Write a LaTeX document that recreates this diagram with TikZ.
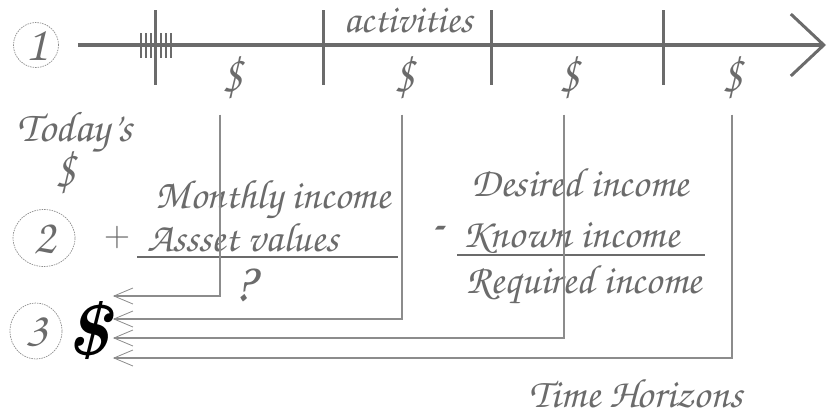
\documentclass[tikz,border=0pt]{standalone}
\usepackage[T1,TU]{fontenc}
\usetikzlibrary{arrows.meta,shapes.geometric}
\newcommand\hand{\fontencoding{T1}\fontfamily{pzc}\fontseries{mb}\fontshape{it}\selectfont}
\definecolor{ink}{gray}{0.42}
\definecolor{wire}{gray}{0.55}
\tikzset{
  hand/.style = {text = ink, inner sep = 0pt, font = {\hand\fontsize{#1}{#1}\selectfont}},
  hand/.default = 41,
  numring/.style = {ellipse, draw = wire, line width = 0.7pt, dash pattern = on 1.5pt off 1pt, text = ink, inner sep = 0pt, font = {\hand\fontsize{50}{50}\selectfont}},
  tick/.style = {draw = ink, line width = 3pt},
  link/.style = {draw = wire, line width = 1.3pt, -{Straight Barb[length = 19pt, width = 16pt, line width = 0.8pt]}},
  bar/.style = {draw = ink, line width = 2.5pt}
}
\begin{document}
\begin{tikzpicture}[x = 1pt, y = -1pt]
\useasboundingbox (0,0) rectangle (828,416);
\pgfmathsetmacro\lineY{45};
\node[numring, minimum width = 45, minimum height = 45] (one) at (36,\lineY) {1};
\node[numring, minimum width = 62, minimum height = 57] (two) at (44,238) {2};
\node[numring, minimum width = 52, minimum height = 56] (three) at (36,331) {3};
\coordinate (tip) at (826,\lineY);
\draw[draw = ink, line width = 4pt, -{Straight Barb[length = 33pt, width = 62pt, line width = 3pt]}] ([xshift = 19pt]one.east) -- (tip);
\foreach \x in {155,323,491,663} \draw[tick] (\x,10) -- (\x,85);
\foreach \x in {141,146,151,161,166,171} \draw[tick, line width = 1.5pt] (\x,33) -- (\x,58);
\node[hand = 40] (act) at (408,20) {activities};
\foreach \x/\n in {233/a,405/b,570/c,733/d} \node[hand = 52] (cash\n) at (\x,77) {\$};
\node[hand = 43] (today) at (75,133) {Today's};
\node[hand = 52] (todaycash) at (66,172) {\$};
\node[text = ink, inner sep = 0pt, font = \fontsize{36}{36}\selectfont] (plus) at (117,238) {+};
\node[hand] (monthly) at (273,200) {Monthly income};
\node[hand] (asset) at (243,237) {Assset values};
\draw[bar] (137,257) -- (398,257);
\node[hand = 56] (what) at (244,285) {?};
\node[hand] (desired) at (580,182) {Desired income};
\node[hand = 60] (minus) at (437,233) {-};
\node[hand] (known) at (571,238) {Known income};
\draw[bar] (457,255) -- (705,255);
\node[hand] (required) at (584,285) {Required income};
\node[font = {\bfseries\itshape\fontsize{72}{72}\selectfont}, inner sep = 0pt] (bigcash) at (88,331) {\$};
\foreach \n/\dx/\dy in {a/-13/-35,b/-3/-12,c/-6/7,d/-1/27}
  \draw[link] ([shift = {(\dx,15)}]cash\n.south) |- ([shift = {(4,\dy)}]bigcash.east);
\node[hand] (horizon) at (636,393) {Time Horizons};
\end{tikzpicture}
\end{document}
